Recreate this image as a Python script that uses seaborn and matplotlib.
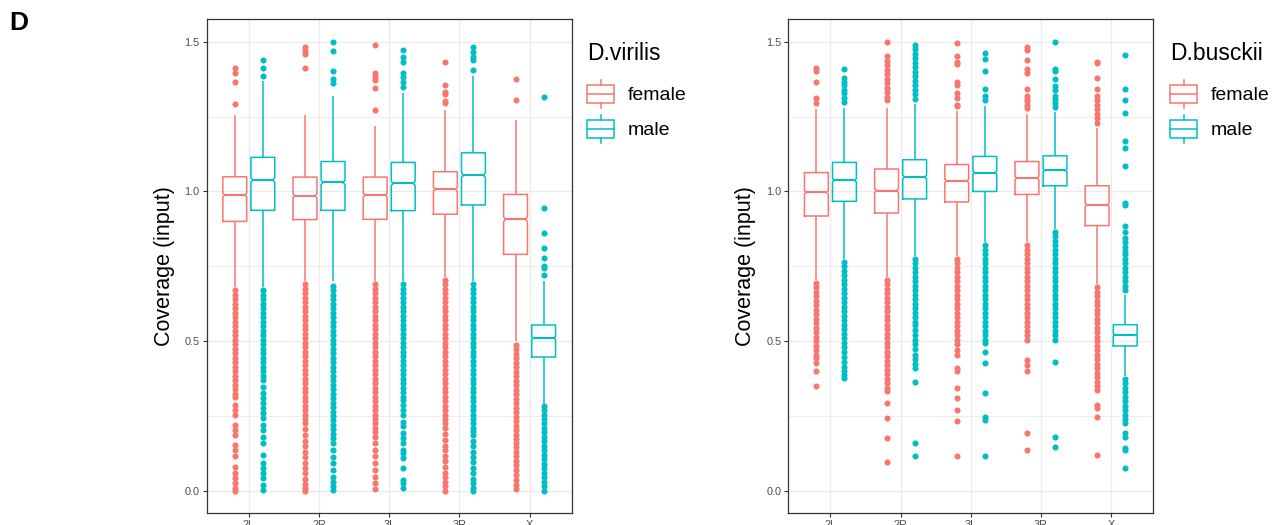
import matplotlib
matplotlib.use("Agg")
import matplotlib.pyplot as plt
import pandas as pd
import seaborn as sns
from matplotlib.legend_handler import HandlerBase
from matplotlib.patches import Rectangle
from matplotlib.lines import Line2D

plt.rcParams["font.family"] = ["Liberation Sans", "DejaVu Sans"]

chromosomes = ["2L", "2R", "3L", "3R", "X"]
sexes = ["female", "male"]
sex_colors = ["#F8766D", "#00BFC4"]

# ---------------- D. virilis: box summaries per chromosome arm ----------------
vir_f_lo = [0.680, 0.700, 0.700, 0.715, 0.500]
vir_f_q1 = [0.900, 0.906, 0.907, 0.924, 0.790]
vir_f_med = [0.988, 0.986, 0.988, 1.007, 0.907]
vir_f_q3 = [1.049, 1.048, 1.048, 1.066, 0.990]
vir_f_hi = [1.257, 1.255, 1.220, 1.272, 1.238]

vir_m_lo = [0.680, 0.700, 0.700, 0.700, 0.290]
vir_m_q1 = [0.937, 0.937, 0.936, 0.955, 0.447]
vir_m_med = [1.038, 1.030, 1.027, 1.054, 0.510]
vir_m_q3 = [1.114, 1.100, 1.097, 1.129, 0.554]
vir_m_hi = [1.369, 1.319, 1.330, 1.385, 0.700]

# outlying windows (2L, 2R, 3L, 3R, X)
vir_f_out = [
    [1.414, 1.394, 1.366, 1.292,
     0.670, 0.655, 0.640, 0.625, 0.610, 0.595, 0.580, 0.565, 0.550, 0.535, 0.520, 0.505,
     0.490, 0.475, 0.460, 0.445, 0.430, 0.415, 0.400, 0.385, 0.370, 0.355, 0.340, 0.325,
     0.312, 0.287, 0.270, 0.254, 0.220, 0.204, 0.187, 0.154, 0.137, 0.115, 0.081, 0.059,
     0.042, 0.026, 0.009, 0.000],
    [1.481, 1.470, 1.458, 1.414,
     0.690, 0.675, 0.660, 0.645, 0.630, 0.615, 0.600, 0.585, 0.570, 0.555, 0.540, 0.525,
     0.510, 0.495, 0.480, 0.465, 0.450, 0.435, 0.420, 0.405, 0.390, 0.375, 0.360, 0.345,
     0.330, 0.315, 0.300, 0.285, 0.270, 0.255, 0.240, 0.225, 0.205, 0.188, 0.168, 0.150,
     0.130, 0.112, 0.094, 0.075, 0.058, 0.040, 0.024, 0.010, 0.000],
    [1.489, 1.394, 1.383, 1.372, 1.344, 1.272,
     0.690, 0.675, 0.660, 0.645, 0.630, 0.615, 0.600, 0.585, 0.570, 0.555, 0.540, 0.525,
     0.510, 0.495, 0.480, 0.465, 0.450, 0.435, 0.420, 0.405, 0.390, 0.375, 0.360, 0.345,
     0.330, 0.315, 0.300, 0.285, 0.270, 0.255, 0.240, 0.225, 0.210, 0.195, 0.180, 0.160,
     0.135, 0.115, 0.092, 0.070, 0.045, 0.025, 0.005],
    [1.433, 1.355, 1.333, 1.327, 1.303, 1.294,
     0.705, 0.690, 0.675, 0.660, 0.645, 0.630, 0.615, 0.600, 0.585, 0.570, 0.555, 0.540,
     0.525, 0.510, 0.495, 0.480, 0.465, 0.450, 0.435, 0.420, 0.405, 0.390, 0.375, 0.360,
     0.345, 0.330, 0.315, 0.300, 0.285, 0.270, 0.255, 0.240, 0.225, 0.210, 0.190, 0.170,
     0.150, 0.135, 0.115, 0.100, 0.080, 0.060, 0.045, 0.030, 0.015, 0.000],
    [1.375, 1.307,
     0.488, 0.473, 0.458, 0.443, 0.428, 0.413, 0.398, 0.383, 0.368, 0.353, 0.338, 0.323,
     0.308, 0.293, 0.278, 0.263, 0.248, 0.233, 0.218, 0.203, 0.188, 0.173, 0.160, 0.145,
     0.130, 0.115, 0.100, 0.085, 0.068, 0.052, 0.036, 0.020, 0.005],
]
vir_m_out = [
    [1.439, 1.411, 1.385,
     0.670, 0.655, 0.640, 0.625, 0.610, 0.595, 0.580, 0.565, 0.550, 0.535, 0.520, 0.505,
     0.490, 0.475, 0.460, 0.445, 0.430, 0.415, 0.400, 0.385, 0.371, 0.348, 0.326, 0.309,
     0.293, 0.276, 0.259, 0.243, 0.220, 0.204, 0.181, 0.159, 0.120, 0.092, 0.076, 0.059,
     0.042, 0.020, 0.003],
    [1.500, 1.468, 1.403, 1.375, 1.363,
     0.685, 0.670, 0.655, 0.640, 0.625, 0.610, 0.595, 0.580, 0.565, 0.550, 0.535, 0.520,
     0.505, 0.490, 0.475, 0.460, 0.445, 0.430, 0.415, 0.400, 0.385, 0.370, 0.355, 0.340,
     0.325, 0.310, 0.295, 0.280, 0.265, 0.250, 0.235, 0.220, 0.205, 0.190, 0.175, 0.159,
     0.135, 0.112, 0.092, 0.068, 0.045, 0.030, 0.015, 0.003],
    [1.474, 1.450, 1.433, 1.396, 1.383, 1.366, 1.350,
     0.690, 0.675, 0.660, 0.645, 0.630, 0.615, 0.600, 0.585, 0.570, 0.555, 0.540, 0.525,
     0.510, 0.495, 0.480, 0.465, 0.450, 0.435, 0.420, 0.405, 0.390, 0.375, 0.360, 0.345,
     0.330, 0.315, 0.304, 0.287, 0.270, 0.254, 0.231, 0.215, 0.193, 0.176, 0.159, 0.137,
     0.126, 0.109, 0.076, 0.037, 0.026, 0.009],
    [1.483, 1.467, 1.450, 1.439, 1.405,
     0.690, 0.675, 0.660, 0.645, 0.630, 0.615, 0.600, 0.585, 0.570, 0.555, 0.540, 0.525,
     0.510, 0.495, 0.480, 0.465, 0.450, 0.435, 0.420, 0.405, 0.390, 0.375, 0.360, 0.345,
     0.330, 0.315, 0.300, 0.285, 0.270, 0.255, 0.240, 0.225, 0.210, 0.200, 0.185, 0.165,
     0.150, 0.130, 0.112, 0.095, 0.075, 0.060, 0.040, 0.025, 0.010, 0.000],
    [1.314, 0.946, 0.862, 0.812, 0.777, 0.751, 0.743, 0.722,
     0.284, 0.270, 0.255, 0.240, 0.225, 0.210, 0.195, 0.180, 0.165, 0.150, 0.135, 0.120,
     0.105, 0.090, 0.075, 0.060, 0.045, 0.030, 0.015, 0.000],
]

# ---------------- D. busckii: box summaries per chromosome arm ----------------
bus_f_lo = [0.705, 0.715, 0.785, 0.830, 0.690]
bus_f_q1 = [0.918, 0.928, 0.965, 0.990, 0.886]
bus_f_med = [0.997, 1.003, 1.035, 1.045, 0.955]
bus_f_q3 = [1.063, 1.075, 1.090, 1.100, 1.019]
bus_f_hi = [1.276, 1.280, 1.270, 1.260, 1.211]

bus_m_lo = [0.775, 0.785, 0.830, 0.875, 0.384]
bus_m_q1 = [0.967, 0.975, 1.000, 1.019, 0.484]
bus_m_med = [1.037, 1.048, 1.063, 1.070, 0.521]
bus_m_q3 = [1.097, 1.106, 1.117, 1.119, 0.555]
bus_m_hi = [1.280, 1.292, 1.286, 1.265, 0.655]

bus_f_out = [
    [1.412, 1.403, 1.364, 1.312, 1.295,
     0.695, 0.680, 0.665, 0.650, 0.635, 0.620, 0.605, 0.590, 0.575, 0.560, 0.545, 0.530,
     0.515, 0.500, 0.485, 0.470, 0.455, 0.443, 0.426, 0.399, 0.349],
    [1.498, 1.451, 1.436, 1.421, 1.406, 1.391, 1.376, 1.361, 1.346, 1.331, 1.316, 1.305,
     0.705, 0.690, 0.675, 0.660, 0.645, 0.630, 0.615, 0.600, 0.585, 0.570, 0.555, 0.540,
     0.525, 0.510, 0.495, 0.480, 0.465, 0.450, 0.435, 0.420, 0.405, 0.390, 0.375, 0.360,
     0.345, 0.332, 0.295, 0.243, 0.176, 0.096],
    [1.495, 1.454, 1.434, 1.426, 1.367, 1.356, 1.328, 1.312, 1.290, 1.285,
     0.775, 0.760, 0.745, 0.730, 0.715, 0.700, 0.685, 0.670, 0.655, 0.640, 0.625, 0.610,
     0.595, 0.580, 0.565, 0.550, 0.535, 0.520, 0.505, 0.490, 0.472, 0.454, 0.410, 0.400,
     0.343, 0.310, 0.270, 0.232, 0.115],
    [1.482, 1.471, 1.440, 1.409, 1.395, 1.343, 1.318, 1.308, 1.301, 1.289, 1.278,
     0.820, 0.805, 0.790, 0.775, 0.760, 0.745, 0.730, 0.715, 0.700, 0.685, 0.670, 0.655,
     0.640, 0.625, 0.610, 0.595, 0.580, 0.565, 0.550, 0.535, 0.520, 0.505, 0.438, 0.421,
     0.399, 0.193, 0.137],
    [1.434, 1.429, 1.379, 1.342, 1.320, 1.305, 1.290, 1.275, 1.260, 1.245, 1.230,
     0.680, 0.665, 0.650, 0.635, 0.620, 0.605, 0.590, 0.575, 0.560, 0.545, 0.530, 0.515,
     0.500, 0.485, 0.470, 0.455, 0.440, 0.425, 0.410, 0.395, 0.380, 0.365, 0.350, 0.337,
     0.287, 0.276, 0.248, 0.120],
]
bus_m_out = [
    [1.409, 1.379, 1.367, 1.356, 1.340, 1.328, 1.312, 1.300,
     0.765, 0.750, 0.735, 0.720, 0.705, 0.690, 0.675, 0.660, 0.645, 0.630, 0.615, 0.600,
     0.585, 0.570, 0.555, 0.540, 0.525, 0.510, 0.495, 0.480, 0.465, 0.448, 0.432, 0.415,
     0.399, 0.387, 0.376],
    [1.490, 1.475, 1.460, 1.445, 1.430, 1.415, 1.400, 1.385, 1.370, 1.355, 1.340, 1.325,
     1.310,
     0.775, 0.760, 0.745, 0.730, 0.715, 0.700, 0.685, 0.670, 0.655, 0.640, 0.625, 0.610,
     0.595, 0.580, 0.565, 0.555, 0.538, 0.520, 0.505, 0.490, 0.475, 0.455, 0.440, 0.425,
     0.410, 0.365, 0.159, 0.115],
    [1.464, 1.442, 1.403, 1.342, 1.319, 1.306,
     0.820, 0.805, 0.790, 0.775, 0.760, 0.745, 0.730, 0.715, 0.700, 0.685, 0.670, 0.655,
     0.640, 0.625, 0.610, 0.595, 0.580, 0.565, 0.550, 0.535, 0.520, 0.505, 0.493, 0.465,
     0.426, 0.326, 0.248, 0.237, 0.115],
    [1.498, 1.409, 1.403, 1.375, 1.351, 1.340, 1.320, 1.308, 1.295, 1.282,
     0.865, 0.850, 0.835, 0.820, 0.805, 0.790, 0.775, 0.760, 0.745, 0.730, 0.715, 0.700,
     0.685, 0.670, 0.655, 0.640, 0.625, 0.610, 0.595, 0.580, 0.565, 0.550, 0.535, 0.520,
     0.505, 0.432, 0.181, 0.148],
    [1.457, 1.343, 1.304, 1.262, 1.167, 1.145, 1.084, 0.963, 0.955, 0.883, 0.863, 0.845,
     0.830, 0.815, 0.800, 0.790, 0.775, 0.760, 0.745, 0.730, 0.715, 0.700, 0.685, 0.670,
     0.375, 0.360, 0.345, 0.330, 0.315, 0.300, 0.285, 0.270, 0.255, 0.240, 0.226, 0.193,
     0.181, 0.143, 0.137, 0.076],
]


def window_values(lo, q1, med, q3, hi, outliers, weight=400):
    """Coverage values whose quartiles, whisker ends and outliers are the given ones."""
    return [lo] + [q1] * weight + [med] * weight + [q3] * weight + [hi] + list(outliers)


def long_table(summaries):
    rows = []
    for sex, (lo, q1, med, q3, hi, out) in zip(sexes, summaries):
        for i, chrom in enumerate(chromosomes):
            for v in window_values(lo[i], q1[i], med[i], q3[i], hi[i], out[i]):
                rows.append((chrom, sex, v))
    return pd.DataFrame(rows, columns=["chromosome", "sex", "coverage"])


virilis = long_table([
    (vir_f_lo, vir_f_q1, vir_f_med, vir_f_q3, vir_f_hi, vir_f_out),
    (vir_m_lo, vir_m_q1, vir_m_med, vir_m_q3, vir_m_hi, vir_m_out),
])
busckii = long_table([
    (bus_f_lo, bus_f_q1, bus_f_med, bus_f_q3, bus_f_hi, bus_f_out),
    (bus_m_lo, bus_m_q1, bus_m_med, bus_m_q3, bus_m_hi, bus_m_out),
])


class BoxKey(HandlerBase):
    """Legend key drawn as a small box-and-whisker glyph."""

    def create_artists(self, legend, orig_handle, xdescent, ydescent,
                       width, height, fontsize, trans):
        c = orig_handle.get_color()
        cx = -xdescent + width / 2
        cy = -ydescent + height / 2
        bh, wh = 13.0, 20.5
        kw = dict(color=c, lw=1.1, transform=trans)
        box = Rectangle((cx - width / 2, cy - bh / 2), width, bh, fill=False,
                        edgecolor=c, lw=1.1, transform=trans)
        med = Line2D([cx - width / 2, cx + width / 2], [cy, cy], **kw)
        top = Line2D([cx, cx], [cy + bh / 2, cy + wh / 2], **kw)
        bot = Line2D([cx, cx], [cy - wh / 2, cy - bh / 2], **kw)
        return [box, med, top, bot]


NOTCH_INSET = 0.84  # notch reaches 84 % of the half box width

W, H = 1282, 525
fig = plt.figure(figsize=(W / 100, H / 100), dpi=100)

panels = [
    (virilis, "D.virilis", 206.7, 587),
    (busckii, "D.busckii", 788.3, 1170),
]

for df, title, left_px, legend_px in panels:
    ax = fig.add_axes([left_px / W, (H - 513.3) / H, 365 / W, 494 / H])
    sns.boxplot(
        data=df, x="chromosome", y="coverage", hue="sex",
        order=chromosomes, hue_order=sexes, palette=sex_colors,
        saturation=1, fill=False, width=0.8, gap=0.15, whis=1.5,
        linewidth=1.1, notch=True, showcaps=False,
        medianprops=dict(linewidth=1.5),
        flierprops=dict(marker="o", markersize=4.4),
        legend=False, ax=ax,
    )
    for ln in ax.lines:
        xs, ys = list(ln.get_xdata()), list(ln.get_ydata())
        if ln.get_marker() == "o":
            # solid round outlier points in the group colour
            ln.set_markerfacecolor(ln.get_markeredgecolor())
            ln.set_markeredgewidth(0)
        elif len(xs) == 11:
            # shallow notch: pull the notch tips back toward the box sides
            pos = (xs[0] + xs[1]) / 2
            half = abs(xs[1] - xs[0]) / 2
            xs[3] = pos + NOTCH_INSET * half
            xs[8] = pos - NOTCH_INSET * half
            ln.set_xdata(xs)
        elif len(xs) == 2 and ys[0] == ys[1] and xs[0] != xs[1]:
            pos = (xs[0] + xs[1]) / 2
            half = abs(xs[1] - xs[0])  # median spans half the box width
            ln.set_xdata([pos - NOTCH_INSET * half, pos + NOTCH_INSET * half])

    ax.set_xlim(-0.6, 4.6)
    ax.set_ylim(-0.075, 1.575)
    ax.set_xticks(range(len(chromosomes)))
    ax.set_xticklabels(chromosomes)
    ax.set_yticks([0.0, 0.5, 1.0, 1.5])
    ax.set_yticklabels(["0.0", "0.5", "1.0", "1.5"])
    ax.set_yticks([0.25, 0.75, 1.25], minor=True)
    ax.set_axisbelow(True)
    ax.grid(which="major", color="#EBEBEB", linewidth=1.0)
    ax.grid(which="minor", axis="y", color="#EBEBEB", linewidth=0.6)
    ax.tick_params(which="major", length=3.0, width=0.8, color="#333333",
                   labelsize=7.8, labelcolor="#4D4D4D", pad=2.0)
    ax.tick_params(which="minor", length=0)
    for sp in ax.spines.values():
        sp.set_color("#333333")
        sp.set_linewidth(0.9)
    ax.set_xlabel("")
    ax.set_ylabel("Coverage (input)", fontsize=15.5, color="black")
    ax.yaxis.set_label_coords(-0.088, 0.5)

    handles = [Line2D([], [], color=c) for c in sex_colors]
    leg = fig.legend(
        handles, sexes, title=title, loc="upper left",
        bbox_to_anchor=(legend_px / W, 1 - 42 / H), frameon=False,
        fontsize=14, title_fontsize=16.5, alignment="left",
        handlelength=1.4, handleheight=1.0, handletextpad=0.7,
        labelspacing=0.8, borderpad=0, borderaxespad=0,
        handler_map={Line2D: BoxKey()},
    )
    leg._legend_box.sep = 14.5

fig.text(9 / W, 1 - 11 / H, "D", fontsize=19, fontweight="bold", va="top", ha="left")

fig.savefig("out.png", dpi=100)
